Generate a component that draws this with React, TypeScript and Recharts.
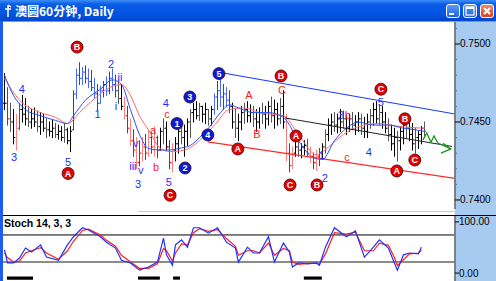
import { ComposedChart, Bar, Line, Scatter, XAxis, YAxis, ReferenceLine, ReferenceArea } from 'recharts';

// prices in pips: 7450 = 0.7450
const BAR_HIGH = [
  7481, 7472, 7462, 7458, 7455, 7462, 7467, 7465, 7460, 7458,
  7459, 7457, 7456, 7455, 7452, 7450, 7451, 7449, 7448, 7447,
  7449, 7446, 7447, 7470, 7484, 7488, 7485, 7486, 7484, 7483,
  7478, 7474, 7473, 7476, 7479, 7482, 7484, 7480, 7477, 7474,
  7466, 7460, 7452, 7445, 7440, 7438, 7440, 7442, 7445, 7443,
  7447, 7441, 7446, 7452, 7450, 7438, 7436, 7440, 7445, 7450,
  7448, 7452, 7458, 7462, 7463, 7462, 7460, 7462, 7458, 7460,
  7468, 7476, 7478, 7474, 7472, 7470, 7462, 7458, 7455, 7460,
  7462, 7463, 7461, 7460, 7458, 7459, 7462, 7460, 7463, 7466,
  7464, 7462, 7465, 7470, 7455, 7436, 7434, 7438, 7437, 7436,
  7438, 7439, 7434, 7430, 7432, 7433, 7436, 7445, 7452, 7455,
  7456, 7455, 7458, 7457, 7454, 7455, 7456, 7454, 7456, 7455,
  7453, 7455, 7458, 7462, 7463, 7461, 7460, 7456, 7452, 7448,
  7446, 7444, 7447, 7450, 7453, 7451, 7449, 7446, 7444, 7447,
  7450,
];
const BAR_LOW = [
  7458, 7448, 7444, 7436, 7432, 7445, 7450, 7448, 7447, 7446,
  7447, 7444, 7442, 7444, 7440, 7441, 7440, 7440, 7439, 7438,
  7437, 7436, 7431, 7445, 7465, 7474, 7474, 7475, 7472, 7470,
  7465, 7458, 7462, 7466, 7467, 7468, 7470, 7466, 7462, 7458,
  7452, 7443, 7435, 7428, 7420, 7422, 7425, 7426, 7428, 7430,
  7428, 7427, 7432, 7436, 7432, 7420, 7418, 7425, 7430, 7436,
  7428, 7435, 7440, 7450, 7452, 7451, 7450, 7449, 7448, 7448,
  7455, 7458, 7460, 7458, 7460, 7456, 7446, 7440, 7438, 7445,
  7449, 7450, 7450, 7447, 7444, 7446, 7449, 7446, 7448, 7450,
  7446, 7448, 7449, 7446, 7425, 7418, 7420, 7428, 7428, 7427,
  7429, 7428, 7424, 7420, 7419, 7422, 7426, 7430, 7438, 7442,
  7444, 7443, 7444, 7446, 7442, 7444, 7445, 7442, 7444, 7442,
  7440, 7440, 7446, 7448, 7449, 7448, 7446, 7443, 7438, 7432,
  7428, 7425, 7432, 7436, 7440, 7438, 7432, 7430, 7433, 7436,
  7440,
];
const BAR_CLOSE = [
  7462, 7452, 7450, 7440, 7446, 7458, 7455, 7452, 7450, 7452,
  7450, 7447, 7450, 7446, 7445, 7444, 7446, 7442, 7444, 7440,
  7445, 7438, 7444, 7468, 7480, 7478, 7482, 7478, 7476, 7472,
  7468, 7462, 7470, 7474, 7470, 7478, 7474, 7470, 7465, 7460,
  7454, 7446, 7438, 7432, 7424, 7430, 7434, 7430, 7440, 7434,
  7440, 7432, 7444, 7446, 7434, 7424, 7432, 7436, 7444, 7440,
  7444, 7450, 7456, 7458, 7454, 7460, 7455, 7458, 7452, 7458,
  7466, 7470, 7466, 7468, 7464, 7460, 7450, 7446, 7450, 7456,
  7458, 7454, 7456, 7452, 7450, 7456, 7455, 7452, 7460, 7454,
  7458, 7452, 7460, 7450, 7430, 7422, 7430, 7434, 7432, 7434,
  7435, 7430, 7428, 7424, 7428, 7430, 7434, 7442, 7448, 7450,
  7448, 7452, 7450, 7452, 7446, 7452, 7448, 7450, 7452, 7446,
  7444, 7450, 7454, 7458, 7452, 7456, 7450, 7446, 7442, 7436,
  7440, 7438, 7444, 7448, 7446, 7442, 7436, 7440, 7442, 7446,
  7444,
];

// runs of bar indexes drawn in colour
const BLUE_RUNS = [[23, 37], [70, 75]];
const RED_RUNS = [[1, 1], [4, 4], [40, 51], [55, 56], [94, 96], [102, 105]];

// moving averages, read at a few bar indexes
const BLUE_MA_AT = [0, 3, 7, 12, 17, 21, 23, 27, 32, 36, 39, 42, 45, 48, 52, 55, 58, 62, 65, 68, 72, 75, 78, 83, 88, 93, 98, 103, 106, 110, 114, 118, 123, 128, 133, 137, 140];
const BLUE_MA = [7480, 7467, 7458, 7454, 7451, 7449, 7454, 7464, 7471, 7477, 7474, 7458, 7442, 7433, 7432, 7432, 7433, 7435, 7440, 7446, 7456, 7461, 7459, 7456, 7456, 7453, 7438, 7427, 7426, 7438, 7446, 7450, 7448, 7448, 7446, 7445, 7444];
const RED_MA_AT = [0, 5, 12, 17, 21, 25, 30, 35, 39, 42, 45, 48, 52, 55, 60, 65, 70, 75, 80, 85, 93, 98, 104, 108, 113, 118, 125, 132, 140];
const RED_MA = [7478, 7464, 7456, 7453, 7449, 7456, 7465, 7472, 7474, 7467, 7454, 7445, 7433, 7431, 7432, 7438, 7448, 7458, 7459, 7456, 7454, 7442, 7429, 7434, 7442, 7447, 7449, 7447, 7446];

// trend channel
const UPPER_LINE = [{ x: 71.5, y: 7481.9 }, { x: 150.2, y: 7455.1 }];
const LOWER_LINE = [{ x: 67.8, y: 7437.2 }, { x: 150.2, y: 7413.8 }];
const MID_LINE = [{ x: 93.5, y: 7452.6 }, { x: 149.2, y: 7434.3 }];
const PROJECTION = [
  { x: 139.5, y: 7438.5 }, { x: 140.8, y: 7443 }, { x: 142.2, y: 7437 }, { x: 143.2, y: 7441 },
  { x: 144.5, y: 7436.5 }, { x: 148.8, y: 7432.7 }, { x: 145.5, y: 7430 },
];
const PROJECTION_HEAD = [{ x: 146.2, y: 7436.3 }, { x: 148.8, y: 7432.7 }];

// elliott wave marks (bar index, price)
const WAVE_BADGES = [
  { t: 'B', x: 24.2, y: 7498, tone: 'r' },
  { t: 'A', x: 21.2, y: 7417, tone: 'r' },
  { t: 'C', x: 55.2, y: 7403, tone: 'r' },
  { t: '1', x: 57.5, y: 7449, tone: 'b' },
  { t: '2', x: 60.2, y: 7420.5, tone: 'b' },
  { t: '3', x: 61.8, y: 7466, tone: 'b' },
  { t: '4', x: 67.8, y: 7441.7, tone: 'b' },
  { t: '5', x: 71.5, y: 7481, tone: 'b' },
  { t: 'A', x: 77.8, y: 7432.7, tone: 'r' },
  { t: 'B', x: 92.2, y: 7479.5, tone: 'r' },
  { t: 'A', x: 97.2, y: 7441, tone: 'r' },
  { t: 'C', x: 95.2, y: 7409.6, tone: 'r' },
  { t: 'B', x: 104.2, y: 7409.6, tone: 'r' },
  { t: 'C', x: 125.5, y: 7471, tone: 'r' },
  { t: 'B', x: 133.5, y: 7452, tone: 'r' },
  { t: 'A', x: 130.8, y: 7418.6, tone: 'r' },
  { t: 'C', x: 136.8, y: 7425.6, tone: 'r' },
];
const WAVE_TEXTS = [
  { t: '4', x: 5.8, y: 7471, tone: 'b' },
  { t: '3', x: 3.2, y: 7427.6, tone: 'b' },
  { t: '5', x: 21.2, y: 7424.4, tone: 'b' },
  { t: '1', x: 31, y: 7455, tone: 'b' },
  { t: '2', x: 35.5, y: 7487, tone: 'b' },
  { t: 'ii', x: 38.5, y: 7479, tone: 'b' },
  { t: 'i', x: 37.2, y: 7460, tone: 'b' },
  { t: 'iii', x: 42.8, y: 7421.5, tone: 'b' },
  { t: 'v', x: 45.4, y: 7419.5, tone: 'b' },
  { t: 'v', x: 43.8, y: 7436.5, tone: 'b' },
  { t: '3', x: 44.5, y: 7410, tone: 'b' },
  { t: 'a', x: 49.5, y: 7445, tone: 'r' },
  { t: 'b', x: 50.5, y: 7421, tone: 'r' },
  { t: '4', x: 53.8, y: 7462, tone: 'b' },
  { t: 'c', x: 54.2, y: 7455, tone: 'r' },
  { t: '5', x: 54.8, y: 7411.5, tone: 'b' },
  { t: 'A', x: 81.5, y: 7467, tone: 'r' },
  { t: 'B', x: 84.2, y: 7442, tone: 'r' },
  { t: 'C', x: 92.5, y: 7470.5, tone: 'r' },
  { t: '1', x: 105.8, y: 7429, tone: 'b' },
  { t: '2', x: 106.8, y: 7414, tone: 'b' },
  { t: '3', x: 112.2, y: 7454.5, tone: 'b' },
  { t: 'b', x: 114.5, y: 7454.5, tone: 'r' },
  { t: 'c', x: 114.2, y: 7427.6, tone: 'r' },
  { t: '4', x: 121.5, y: 7431, tone: 'b' },
  { t: '5', x: 125.5, y: 7463, tone: 'b' },
];

const PRICE_TICKS = [7400, 7410, 7420, 7430, 7440, 7450, 7460, 7470, 7480, 7490, 7500, 7510];

// Stoch 14,3,3
const STOCH_AT = [0, 1, 3, 5, 7, 9, 12, 14, 18, 21, 23, 26, 28, 32, 34, 37, 39, 42, 45, 48, 51, 53, 54, 56, 57, 59, 61, 63, 65, 68, 71, 74, 77, 78, 81, 83, 85, 88, 90, 93, 95, 96, 98, 101, 104, 105, 107, 110, 114, 117, 120, 123, 125, 128, 130, 131, 133, 135, 138, 139];
const STOCH_K = [47, 18, 18, 29, 51, 42, 58, 31, 24, 58, 76, 96, 91, 76, 64, 51, 24, 18, 2, 9, 20, 73, 36, 13, 58, 69, 53, 96, 96, 84, 96, 64, 51, 20, 53, 40, 40, 76, 20, 62, 42, 9, 18, 16, 18, 13, 53, 96, 76, 89, 31, 53, 69, 51, 18, 2, 36, 40, 38, 53];
const STOCH_D = [40, 30, 20, 22, 40, 45, 52, 40, 26, 45, 66, 90, 93, 80, 68, 55, 35, 20, 6, 6, 16, 50, 45, 22, 40, 60, 58, 85, 94, 88, 92, 72, 55, 35, 45, 45, 40, 62, 35, 50, 45, 20, 15, 17, 17, 15, 38, 85, 82, 86, 45, 45, 62, 57, 30, 12, 25, 38, 40, 46];
const STOCH_MARKS = [[0.8, 9.5], [44.5, 51.8], [56.2, 58.5], [99.8, 105.8]];

const X_DOMAIN = [-0.5, 150.2];
const AXIS_BLUE = '#a6caf0';
const LABEL_FONT = '"Liberation Sans", Arial, sans-serif';

const inRuns = (runs: number[][], i: number) => runs.some(([a, b]) => i >= a && i <= b);
const barColor = (i: number) => {
  if (inRuns(BLUE_RUNS, i)) return i % 2 ? '#1f3cff' : '#4a6bff';
  if (inRuns(RED_RUNS, i)) return i % 2 ? '#ff0000' : '#ff8080';
  return i % 3 === 2 ? '#555' : '#000';
};
const pts = (at: number[], v: number[]) => at.map((x, k) => ({ x, y: v[k] }));

const bars = BAR_HIGH.map((h, i) => ({
  x: i,
  range: [BAR_LOW[i], h],
  h,
  l: BAR_LOW[i],
  c: BAR_CLOSE[i],
  // open tick sits at the previous bar's close
  o: Math.min(h, Math.max(BAR_LOW[i], i > 0 ? BAR_CLOSE[i - 1] : BAR_CLOSE[i])),
  color: barColor(i),
}));

function OhlcShape(props: any) {
  const { x, y, width, height, payload } = props;
  if (x == null || y == null) return null;
  const top = Math.min(y, y + height);
  const bottom = Math.max(y, y + height);
  const cx = Math.round(x + width / 2) + 0.5;
  const span = payload.h - payload.l;
  const at = (v: number) => (span > 0 ? top + ((payload.h - v) / span) * (bottom - top) : top);
  const cy = at(payload.c);
  const oy = at(payload.o);
  return (
    <g stroke={payload.color} strokeWidth={1}>
      <line x1={cx} x2={cx} y1={top - 0.5} y2={bottom + 0.5} />
      <line x1={cx - 1.5} x2={cx} y1={oy} y2={oy} />
      <line x1={cx} x2={cx + 1.5} y1={cy} y2={cy} />
    </g>
  );
}

function BadgeMark(props: any) {
  const { cx, cy, payload } = props;
  const fill = payload.tone === 'b' ? '#0a1adc' : '#e80000';
  return (
    <g>
      <circle cx={cx} cy={cy} r={6} fill={fill} stroke="#3a0000" strokeWidth={0.8} />
      <text x={cx} y={cy} dy={3.2} textAnchor="middle" fontSize={9} fontWeight="bold" fill="#fff" fontFamily={LABEL_FONT}>
        {payload.t}
      </text>
    </g>
  );
}

function TextMark(props: any) {
  const { cx, cy, payload } = props;
  return (
    <text x={cx} y={cy} dy={4} textAnchor="middle" fontSize={11} fill={payload.tone === 'b' ? '#1f2fff' : '#ff1a1a'} fontFamily={LABEL_FONT}>
      {payload.t}
    </text>
  );
}

function PriceTick(props: any) {
  const { x, y, payload } = props;
  const major = payload.value % 50 === 0;
  return (
    <g>
      <line x1={x} x2={x + (major ? 5 : 2)} y1={y} y2={y} stroke={major ? '#000' : '#5070c0'} />
      {major && (
        <text x={x + 5} y={y} dy={3.5} fontSize={10} fill="#000" fontFamily={LABEL_FONT}>
          {(payload.value / 10000).toFixed(4)}
        </text>
      )}
    </g>
  );
}

function StochTick(props: any) {
  const { x, y, payload } = props;
  const shift = payload.value === 100 ? -4 : 2;
  return (
    <g>
      <line x1={x} x2={x + 4} y1={y + shift} y2={y + shift} stroke="#000" />
      <text x={x + 4} y={y + shift} dy={3.5} fontSize={10} fill="#000" fontFamily={LABEL_FONT}>
        {payload.value.toFixed(2)}
      </text>
    </g>
  );
}

function WindowButton({ left, close, children }: { left: number; close?: boolean; children: any }) {
  return (
    <div
      style={{
        position: 'absolute', left, top: 4, width: 14, height: 14, borderRadius: 3,
        border: '1px solid #fff', boxSizing: 'border-box',
        background: close ? 'linear-gradient(#f08a6a, #d84020)' : 'linear-gradient(#5a9af8, #2060e0)',
      }}
    >
      <svg width={12} height={12} style={{ position: 'absolute', left: 0, top: 0 }}>{children}</svg>
    </div>
  );
}

export default function App() {
  return (
    <div style={{ position: 'absolute', left: 0, top: 0, width: 496, height: 281, overflow: 'hidden', background: '#fff' }}>
      {/* title bar */}
      <div style={{ position: 'absolute', left: 0, top: 0, width: 496, height: 21, background: 'linear-gradient(#3d8ef6 0%, #0a5de8 20%, #0052e0 70%, #0046cc 100%)' }} />
      <svg width={10} height={14} style={{ position: 'absolute', left: 3, top: 4 }}>
        <path d="M5 1 V13 M2 5 H8 M5 1 L8 3" stroke="#fff" strokeWidth={1.5} fill="none" />
      </svg>
      <div style={{ position: 'absolute', left: 15, top: 3, color: '#fff', fontWeight: 'bold', fontSize: 12, lineHeight: '15px', fontFamily: '"Noto Sans CJK SC", sans-serif', whiteSpace: 'nowrap' }}>
        澳圆60分钟, Daily
      </div>
      <WindowButton left={446}>
        <rect x={2} y={8} width={5} height={2} fill="#fff" />
      </WindowButton>
      <WindowButton left={463}>
        <rect x={2} y={2} width={8} height={8} fill="none" stroke="#fff" strokeWidth={1.2} />
        <rect x={2} y={2} width={8} height={2} fill="#fff" />
      </WindowButton>
      <WindowButton left={480} close>
        <path d="M3 3 L9 9 M9 3 L3 9" stroke="#fff" strokeWidth={2} />
      </WindowButton>
      <div style={{ position: 'absolute', left: 0, top: 21, width: 496, height: 1, background: '#7a96df' }} />
      <div style={{ position: 'absolute', left: 0, top: 21, width: 3, height: 260, background: '#1c5cf0' }} />
      <div style={{ position: 'absolute', left: 455, top: 22, width: 41, height: 259, background: AXIS_BLUE }} />
      <div style={{ position: 'absolute', left: 138, top: 211, width: 317, height: 1, background: '#c8c8c8' }} />
      <div style={{ position: 'absolute', left: 3, top: 215, width: 493, height: 1, background: '#000' }} />

      {/* price panel */}
      <div style={{ position: 'absolute', left: 3, top: 22 }}>
        <ComposedChart width={493} height={187} data={bars} margin={{ top: 0, right: 0, bottom: 0, left: 0 }}>
          <XAxis dataKey="x" type="number" domain={X_DOMAIN} allowDataOverflow hide />
          <YAxis
            orientation="right"
            width={41}
            type="number"
            domain={[7394.2, 7514.1]}
            allowDataOverflow
            ticks={PRICE_TICKS}
            interval={0}
            tick={<PriceTick />}
            tickLine={false}
            tickSize={0}
            tickMargin={0}
            axisLine={{ stroke: '#808080', strokeWidth: 2 }}
          />
          <Line data={pts(RED_MA_AT, RED_MA)} dataKey="y" type="monotone" stroke="#ff6a6a" strokeWidth={1} dot={false} isAnimationActive={false} />
          <Line data={pts(BLUE_MA_AT, BLUE_MA)} dataKey="y" type="monotone" stroke="#2a50ff" strokeWidth={1} dot={false} isAnimationActive={false} />
          <Bar dataKey="range" barSize={3} shape={OhlcShape} isAnimationActive={false} />
          <Line data={UPPER_LINE} dataKey="y" type="linear" stroke="#1a3cff" strokeWidth={1.2} dot={false} isAnimationActive={false} />
          <Line data={LOWER_LINE} dataKey="y" type="linear" stroke="#ff2a2a" strokeWidth={1.2} dot={false} isAnimationActive={false} />
          <Line data={MID_LINE} dataKey="y" type="linear" stroke="#222" strokeWidth={1} dot={false} isAnimationActive={false} />
          <Line data={PROJECTION} dataKey="y" type="linear" stroke="#1a9a1a" strokeWidth={1.3} dot={false} isAnimationActive={false} />
          <Line data={PROJECTION_HEAD} dataKey="y" type="linear" stroke="#1a9a1a" strokeWidth={1.3} dot={false} isAnimationActive={false} />
          <Scatter data={WAVE_TEXTS} dataKey="y" shape={TextMark} isAnimationActive={false} />
          <Scatter data={WAVE_BADGES} dataKey="y" shape={BadgeMark} isAnimationActive={false} />
        </ComposedChart>
      </div>

      {/* stochastic panel */}
      <div style={{ position: 'absolute', left: 3, top: 216 }}>
        <ComposedChart width={493} height={65} data={pts(STOCH_AT, STOCH_K)} margin={{ top: 0, right: 0, bottom: 0, left: 0 }}>
          <XAxis dataKey="x" type="number" domain={X_DOMAIN} allowDataOverflow hide />
          <YAxis
            orientation="right"
            width={41}
            type="number"
            domain={[-22, 122]}
            allowDataOverflow
            ticks={[0, 100]}
            interval={0}
            tick={<StochTick />}
            tickLine={false}
            tickSize={0}
            tickMargin={0}
            axisLine={{ stroke: '#808080', strokeWidth: 2 }}
          />
          <ReferenceLine y={80} stroke="#000" strokeWidth={1} />
          <ReferenceLine y={20} stroke="#8c8c8c" strokeWidth={2} />
          {STOCH_MARKS.map(([a, b], k) => (
            <ReferenceArea key={k} x1={a} x2={b} y1={-19} y2={-12} fill="#000" fillOpacity={1} stroke="none" />
          ))}
          <Line data={pts(STOCH_AT, STOCH_D)} dataKey="y" type="linear" stroke="#ff2020" strokeWidth={1.2} dot={false} isAnimationActive={false} />
          <Line dataKey="y" type="linear" stroke="#2030ff" strokeWidth={1.2} dot={false} isAnimationActive={false} />
        </ComposedChart>
      </div>
      <div style={{ position: 'absolute', left: 4, top: 216, fontSize: 10.5, fontWeight: 'bold', fontFamily: LABEL_FONT, color: '#000', lineHeight: '14px' }}>
        Stoch 14, 3, 3
      </div>
    </div>
  );
}
